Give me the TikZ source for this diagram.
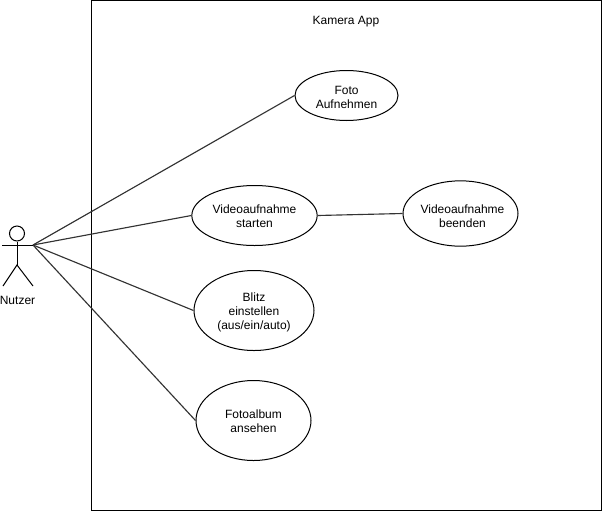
\documentclass[tikz,border=0pt]{standalone}
\usepackage{fontspec}
\setmainfont{Liberation Sans}
\usetikzlibrary{shapes.geometric}
\definecolor{ink}{HTML}{000000}
\tikzset{
  x=0.75pt,y=-0.75pt,
  usecase/.style={draw=ink,fill=white,ellipse,inner ysep=0pt,inner xsep=-3pt,line width=0.75pt,align=center,font=\fontsize{9}{10.5}\selectfont},
  assoc/.style={draw=ink!80,line width=0.85pt},
  stick/.style={draw=ink,line width=0.75pt},
  lbl/.style={inner sep=0pt,font=\fontsize{9}{10.5}\selectfont}
}
\begin{document}
\begin{tikzpicture}
\useasboundingbox (0,0) rectangle (602,511);
\fill[white] (0,0) rectangle (602,511);
\node[draw=ink,line width=0.75pt,minimum width=510pt*0.75,minimum height=510pt*0.75,inner sep=0pt] (sys) at (346,255.5) {};
\node[lbl] (title) at (346,21.5) {Kamera App};
\coordinate (hand) at (33,245);
\node[usecase,text height=19.25pt,minimum width=77.25pt,minimum height=37.5pt] (foto) at (346.5,95.5) {Foto\\Aufnehmen};
\node[usecase,text height=18.5pt,minimum width=94pt,minimum height=45pt] (start) at (254.5,215.5) {Videoaufnahme\\starten};
\node[usecase,text height=20.75pt,minimum width=86.25pt,minimum height=49pt] (stop) at (460.5,213.5) {\hspace*{3pt}Videoaufnahme\\\hspace*{3pt}beenden};
\node[usecase,text height=30.5pt,minimum width=90pt,minimum height=60pt] (blitz) at (254,310.5) {Blitz\\einstellen\\(aus/ein/auto)};
\node[usecase,text height=18.5pt,minimum width=86.25pt,minimum height=60pt] (album) at (253.5,420.5) {Fotoalbum\\ansehen};
\draw[assoc] (hand) -- (foto.west);
\draw[assoc] (hand) -- (start.west);
\draw[assoc] (hand) -- (blitz.west);
\draw[assoc] (hand) -- (album.west);
\draw[assoc] (start.east) -- (stop.west);
\node[draw=ink,fill=white,circle,minimum size=11.25pt,inner sep=0pt,line width=0.75pt] (head) at (17,233.5) {};
\coordinate (hip) at (17,265);
\coordinate (arml) at (2,245);
\coordinate (armr) at (33,245);
\coordinate (footl) at (3,286);
\coordinate (footr) at (33,286);
\draw[stick] (head.south) -- (hip);
\draw[stick] (arml) -- (armr);
\draw[stick] (footl) -- (hip) -- (footr);
\node[lbl] (nutzer) at (17.5,300) {Nutzer};
\end{tikzpicture}
\end{document}
